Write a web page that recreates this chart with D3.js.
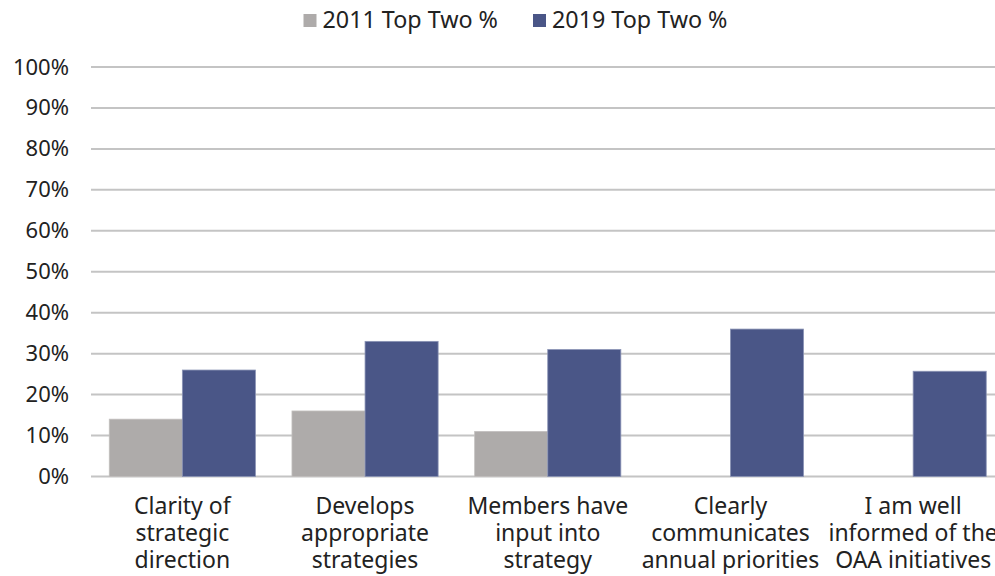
<!DOCTYPE html>
<html>
<head>
<meta charset="utf-8">
<script src="https://cdn.jsdelivr.net/npm/d3@7"></script>
<style>
  html, body { margin: 0; padding: 0; background: #fff; }
  svg { display: block; font-family: "Noto Sans", "Open Sans", sans-serif; }
</style>
</head>
<body>
<svg id="chart" width="995" height="576"></svg>
<script>
// Survey items and the share of "top two" ratings per year
const categories = [
  ["Clarity of", "strategic", "direction"],
  ["Develops", "appropriate", "strategies"],
  ["Members have", "input into", "strategy"],
  ["Clearly", "communicates", "annual priorities"],
  ["I am well", "informed of the", "OAA initiatives"]
];
const seriesNames = ["2011 Top Two %", "2019 Top Two %"];
const values2011 = [0.14, 0.16, 0.11, null, null];
const values2019 = [0.26, 0.33, 0.31, 0.36, 0.257];
const yTicks = [0, 0.1, 0.2, 0.3, 0.4, 0.5, 0.6, 0.7, 0.8, 0.9, 1.0];

const colors = ["#aeabaa", "#4a5687"];
const svg = d3.select("#chart");

const plotLeft = 91, plotRight = 1004.5, plotTop = 67, plotBottom = 476.5;

const x = d3.scaleBand()
  .domain(d3.range(categories.length))
  .range([plotLeft, plotRight])
  .paddingInner(0.2)
  .paddingOuter(0.1);

const xs = d3.scaleBand()
  .domain([0, 1])
  .range([0, x.bandwidth()]);

const y = d3.scaleLinear().domain([0, 1]).range([plotBottom, plotTop]);

// Horizontal gridlines
svg.append("g")
  .selectAll("line")
  .data(yTicks)
  .join("line")
  .attr("x1", plotLeft)
  .attr("x2", 995)
  .attr("y1", d => y(d))
  .attr("y2", d => y(d))
  .attr("stroke", "#c4c4c4")
  .attr("stroke-width", 2);

// Y axis labels
const yAxis = svg.append("g")
  .attr("transform", `translate(${plotLeft - 22},0)`)
  .call(d3.axisLeft(y).tickValues(yTicks).tickFormat(d3.format(".0%")).tickSize(0).tickPadding(0));
yAxis.select(".domain").remove();
yAxis.selectAll("text")
  .attr("font-size", 22)
  .attr("fill", "#222")
  .attr("font-family", "Noto Sans, Open Sans, sans-serif");

// Bars
const series = [values2011, values2019];
series.forEach((vals, si) => {
  svg.append("g")
    .selectAll("rect")
    .data(vals.map((v, i) => ({ v, i })).filter(d => d.v != null))
    .join("rect")
    .attr("x", d => x(d.i) + xs(si))
    .attr("y", d => y(d.v))
    .attr("width", xs.bandwidth())
    .attr("height", d => y(0) - y(d.v))
    .attr("fill", colors[si])
    .attr("stroke", si === 0 ? "#c2bfbe" : "#8a93b5")
    .attr("stroke-width", 0.8);
});

// Category labels, one text per line
const xl = svg.append("g");
categories.forEach((lines, i) => {
  lines.forEach((ln, j) => {
    xl.append("text")
      .attr("text-anchor", "middle")
      .attr("font-size", 23)
      .attr("fill", "#222")
      .attr("x", x(i) + x.bandwidth() / 2)
      .attr("y", 514 + j * 27)
      .text(ln);
  });
});

// Legend
const legendX = [303.5, 533];
seriesNames.forEach((name, i) => {
  const g = svg.append("g").attr("transform", `translate(${legendX[i]},0)`);
  g.append("rect")
    .attr("x", 0).attr("y", 14)
    .attr("width", 13).attr("height", 13)
    .attr("fill", colors[i]);
  g.append("text")
    .attr("x", 19).attr("y", 27.5)
    .attr("font-size", 23.3)
    .attr("fill", "#222")
    .text(name);
});
</script>
</body>
</html>
